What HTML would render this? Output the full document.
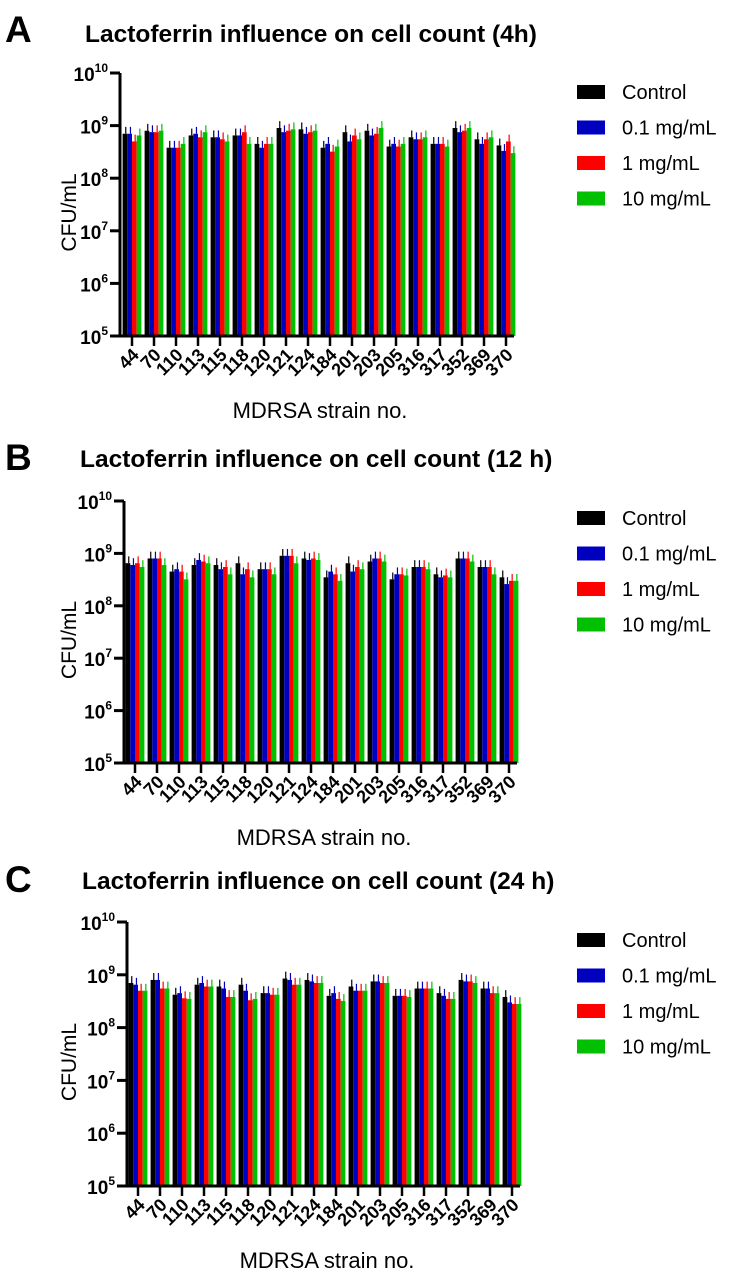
<!DOCTYPE html>
<html><head><meta charset="utf-8">
<style>
html,body{margin:0;padding:0;background:#fff;}
svg{display:block;font-family:"Liberation Sans",Arial,sans-serif;}
</style></head>
<body>
<svg id="fig" width="736" height="1278" viewBox="0 0 736 1278"></svg>
<script>
const strains = ["44","70","110","113","115","118","120","121","124","184","201","203","205","316","317","352","369","370"];
const seriesNames = ["Control","0.1 mg/mL","1 mg/mL","10 mg/mL"];
const seriesColors = ["#000000","#0000c0","#ff0000","#00c000"];
const yTickExps = [5,6,7,8,9,10];
// values in units of 1e8 CFU/mL
const a_control = [7,8,3.8,6.5,6,6.5,4.5,9,8.5,3.8,7.5,8,4,6,4.5,9,5.5,4.2];
const a_low     = [7,7.5,3.8,7,6,6.5,3.8,7.5,7,4.5,5,6.5,4.5,5.5,4.5,7.5,4.5,3.3];
const a_mid     = [5,7.5,3.8,6,5.5,7.5,4.5,8,7.5,3.2,6.5,7,4,5.5,4.5,8,5.5,5];
const a_high    = [6.5,8,4.5,7.5,5,4.5,4.5,8.5,8,4,5.5,9,4.5,6,4,9,6,3];
const b_control = [6.5,8,4.5,6,6,6.5,5,9,8,3.5,6.5,7,3.2,5.5,4,8,5.5,3.5];
const b_low     = [6,8,5,7.5,5,4,5,9,7.5,4.5,4.5,8,4,5.5,3.5,8,5.5,2.6];
const b_mid     = [6.5,8,4.5,7,5.5,5,5,9,8,4,5.5,8,4,5.5,3.8,8,5.5,3];
const b_high    = [5.5,6,3.2,6.5,4,3.5,4,6.5,7.5,3,5,7,3.8,5,3.5,7,4,3];
const c_control = [7,8,4.2,6.5,6,6.5,4.5,8.5,8,4,6,7.5,4,5.5,4.5,8,5.5,3.8];
const c_low     = [6.5,8,4.5,7,5.5,5,4.5,8,7.5,4.5,5,7.5,4,5.5,4,7.5,5.5,3];
const c_mid     = [5,5.5,3.6,6,3.8,3.3,4.2,6.5,7,3.5,5,7,4,5.5,3.5,7.5,4.5,2.8];
const c_high    = [5,5.5,3.5,6,3.8,3.5,4.2,6.5,7,3.2,5,7,3.8,5.5,3.5,7,4.5,2.8];

const NS="http://www.w3.org/2000/svg";
const svg=document.getElementById('fig');
function mk(tag,attrs,parent){const e=document.createElementNS(NS,tag);for(const k in attrs)e.setAttribute(k,attrs[k]);(parent||svg).appendChild(e);return e;}

const panels=[
 {letter:"A",title:"Lactoferrin influence on cell count (4h)",ax:120,top:73,base:336,t0:132,titleY:42,titleX:85,letterY:42,legY:92,data:[a_control,a_low,a_mid,a_high]},
 {letter:"B",title:"Lactoferrin influence on cell count (12 h)",ax:124,top:501,base:763,t0:135,titleY:467,titleX:80,letterY:470,legY:518,data:[b_control,b_low,b_mid,b_high]},
 {letter:"C",title:"Lactoferrin influence on cell count (24 h)",ax:127,top:922,base:1186,t0:138,titleY:889,titleX:82,letterY:892,legY:940,data:[c_control,c_low,c_mid,c_high]}
];
const spacing=22, barW=4.7;

panels.forEach((p,pi)=>{
  const g=mk('g',{});
  
  
  const yScale=v=>p.base-(Math.log10(v)-5)/5*(p.base-p.top);
  const xScale=i=>p.t0+i*spacing;
  const L=mk('text',{x:5,y:p.letterY,'font-size':37,'font-weight':'bold'},g);L.textContent=p.letter;
  
  
  const T=mk('text',{x:p.titleX,y:p.titleY,'font-size':24.5,'font-weight':'bold'},g);T.textContent=p.title;
  
  
  p.data.forEach((arr,si)=>{
    arr.forEach((v,i)=>{
      const val=v*1e8;
      const x=xScale(i)-2*barW+si*barW;
      const y=yScale(val);
      const r=mk('rect',{x:x,y:y,width:barW,height:p.base-y,fill:seriesColors[si]},g);
      
      
      const ey=yScale(val*1.35);
      const eb=mk('line',{x1:x+barW/2+0.8,x2:x+barW/2+0.8,y1:y,y2:ey,stroke:seriesColors[si],'stroke-width':1.2},g);
      
      
    });
  });
  const xEnd=xScale(strains.length-1)+8;
  const ya=mk('line',{x1:p.ax,x2:p.ax,y1:p.top,y2:p.base+1.5,stroke:'#000','stroke-width':3},g);
  
  
  const xa=mk('line',{x1:p.ax-10,x2:xEnd,y1:p.base,y2:p.base,stroke:'#000','stroke-width':3},g);
  
  
  yTickExps.forEach(e=>{
    const y=yScale(Math.pow(10,e));
    mk('line',{x1:p.ax-10,x2:p.ax,y1:y,y2:y,stroke:'#000','stroke-width':3},g);
    const t=mk('text',{x:p.ax-12,y:y+8,'font-size':19,'font-weight':'bold','text-anchor':'end'},g);
    
    
    const s1=mk('tspan',{},t);s1.textContent='10';
    const s2=mk('tspan',{'font-size':12,dy:-9},t);s2.textContent=String(e);
  });
  strains.forEach((s,i)=>{
    const x=xScale(i);
    mk('line',{x1:x,x2:x,y1:p.base,y2:p.base+10,stroke:'#000','stroke-width':2.5},g);
    const t=mk('text',{transform:`translate(${x+8},${p.base+20}) rotate(-45)`,'font-size':18,'font-weight':'bold','text-anchor':'end'},g);
    t.textContent=s;
    
    
  });
  const yl=mk('text',{transform:`translate(76,${(p.top+p.base)/2+8}) rotate(-90)`,'font-size':21,'text-anchor':'middle'},g);
  yl.textContent='CFU/mL';
  
  
  const xl=mk('text',{x:p.ax+200,y:p.base+82,'font-size':22,'text-anchor':'middle'},g);
  xl.textContent='MDRSA strain no.';
  
  
  seriesNames.forEach((n,si)=>{
    const y=p.legY+si*35.5;
    const lg=mk('g',{},g);
    
    
    mk('rect',{x:577,y:y-7,width:28,height:14,fill:seriesColors[si]},lg);
    const t=mk('text',{x:622,y:y+7,'font-size':20},lg);t.textContent=n;
  });
});
</script>
</body></html>
